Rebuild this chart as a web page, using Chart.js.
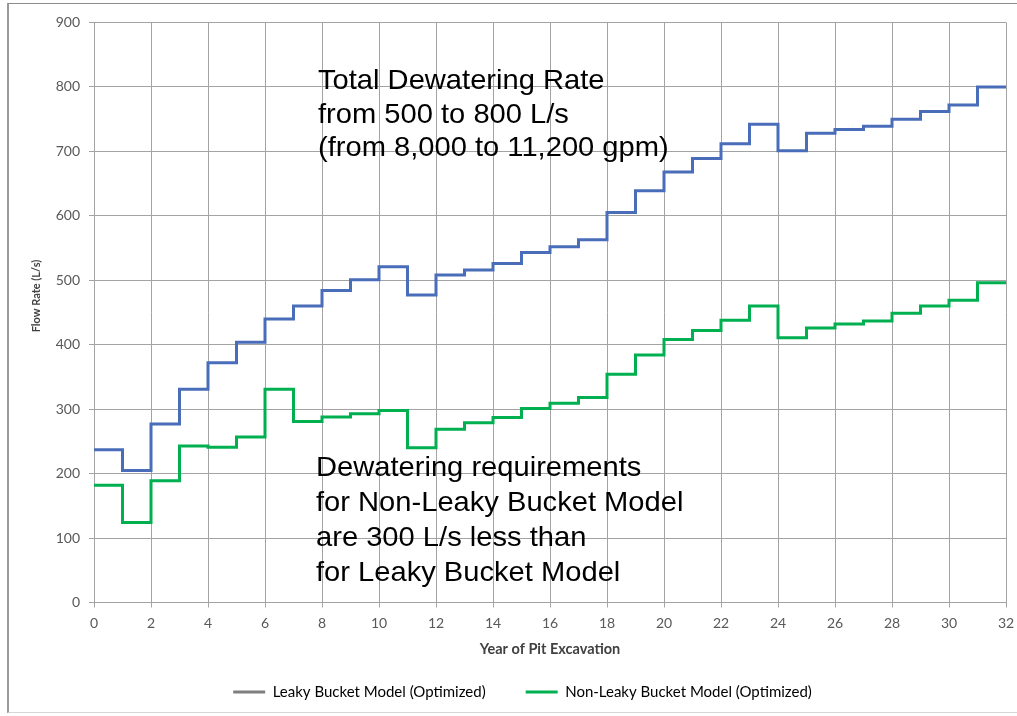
<!DOCTYPE html>
<html><head><meta charset="utf-8">
<script src="https://cdn.jsdelivr.net/npm/chart.js@4.4.0/dist/chart.umd.min.js"></script>
<style>
html,body{margin:0;padding:0;background:#fff;overflow:hidden}
#wrap{position:relative;width:1017px;height:716px;background:#fff}
#frame{position:absolute;left:7px;top:3px;width:1020px;height:708px;border-left:2px solid #9a9a9a;border-top:1px solid #8c8c8c;border-bottom:1px solid #d6d6d6;pointer-events:none}
canvas{position:absolute;left:0;top:0}
</style></head><body>
<div id="wrap"><canvas id="c" width="1017" height="716"></canvas><div id="frame"></div></div>
<script>
// Year of pit excavation (step boundaries)
const years = [0,1,2,3,4,5,6,7,8,9,10,11,12,13,14,15,16,17,18,19,20,21,22,23,24,25,26,27,28,29,30,31,32];
// Flow rate (L/s) for each year interval; last entry is the end of the final step
const leakyBucket = [237,205,277,331,372,404,440,460,484,501,521,477,508,516,526,543,552,563,605,639,668,689,712,742,701,728,734,739,750,762,772,800,800];
const nonLeakyBucket = [182,124,189,243,241,257,331,281,288,293,298,240,269,279,287,301,309,318,354,384,408,422,438,460,411,426,432,437,449,460,469,496,496];
const seriesNames = ['Leaky Bucket Model (Optimized)', 'Non-Leaky Bucket Model (Optimized)'];
const xTitle = 'Year of Pit Excavation';
const yTitle = 'Flow Rate (L/s)';
const noteTop = ['Total Dewatering Rate', 'from 500 to 800 L/s', '(from 8,000 to 11,200 gpm)'];
const noteBottom = ['Dewatering requirements', 'for Non-Leaky Bucket Model', 'are 300 L/s less than', 'for Leaky Bucket Model'];

const toPts = (vals) => years.map((x, i) => ({x: x, y: vals[i]}));

const LEG_FONT = 15, LEG_PAD = 40;

const notesPlugin = {
  id: 'notes',
  afterDraw(chart) {
    const ctx = chart.ctx;
    ctx.save();
    ctx.fillStyle = '#000';
    ctx.font = '28px "Liberation Sans", Arial, sans-serif';
    ctx.textBaseline = 'alphabetic';
    ctx.textAlign = 'left';
    const draw = (lines, x, y0, dy) => {
      lines.forEach((t, i) => {
        ctx.save();
        ctx.translate(x, y0 + i * dy);
        ctx.scale(1.04, 1);
        ctx.fillText(t, 0, 0);
        ctx.restore();
      });
    };
    draw(noteTop, 318, 89, 33.7);
    draw(noteBottom, 316, 476, 35);
    ctx.restore();
  }
};

const legendPlace = {
  id: 'legendPlace',
  afterLayout(chart) {
    const L = chart.legend;
    if (!L) return;
    L.left = 0; L.right = 1045;
    L.top = 692 - LEG_PAD - LEG_FONT / 2;
    L.bottom = 716;
    L.width = L.right - L.left;
    L.height = L.bottom - L.top;
  }
};

new Chart(document.getElementById('c'), {
  type: 'line',
  data: {
    datasets: [
      {label: seriesNames[0], data: toPts(leakyBucket), borderColor: '#4A6DBA', borderWidth: 3, pointRadius: 0, stepped: true, fill: false},
      {label: seriesNames[1], data: toPts(nonLeakyBucket), borderColor: '#00B050', borderWidth: 3, pointRadius: 0, stepped: true, fill: false}
    ]
  },
  options: {
    responsive: false,
    animation: false,
    devicePixelRatio: 1,
    layout: {padding: {left: 0, right: 11, top: 22.5, bottom: 18.3}},
    plugins: {
      tooltip: {enabled: false},
      legend: {
        position: 'bottom',
        maxHeight: 40,
        labels: {
          usePointStyle: true,
          pointStyleWidth: 32,
          padding: LEG_PAD,
          color: '#404040',
          font: {family: 'Lato', size: LEG_FONT},
          generateLabels() {
            return [
              {text: seriesNames[0], strokeStyle: '#7F7F7F', fillStyle: '#7F7F7F', lineWidth: 3, pointStyle: 'line', datasetIndex: 0, hidden: false},
              {text: seriesNames[1], strokeStyle: '#00B050', fillStyle: '#00B050', lineWidth: 3, pointStyle: 'line', datasetIndex: 1, hidden: false}
            ];
          }
        }
      }
    },
    scales: {
      x: {
        type: 'linear', min: 0, max: 32,
        ticks: {stepSize: 2, color: '#595959', font: {family: 'Lato', size: 14}, padding: 8, maxRotation: 0},
        grid: {color: '#a3a3a3', lineWidth: 1, tickLength: 5},
        border: {color: '#a3a3a3'},
        title: {display: true, text: xTitle, color: '#404040', font: {family: 'Lato', size: 14.5, weight: 'bold'}, padding: {top: 0, bottom: 0}},
        afterFit(s) { s.height = 55.2; s.paddingRight = 4; s.paddingLeft = 0; }
      },
      y: {
        min: 0, max: 900,
        ticks: {stepSize: 100, color: '#595959', font: {family: 'Lato', size: 14}, padding: 9},
        grid: {color: '#a3a3a3', lineWidth: 1, tickLength: 5},
        border: {color: '#a3a3a3'},
        title: {display: true, text: '\u2003\u2003\u2003\u2003' + yTitle, color: '#404040', font: {family: 'Lato', size: 11, weight: 'bold'}, padding: {top: 30, bottom: 0}},
        afterFit(s) { s.width = 94; }
      }
    }
  },
  plugins: [notesPlugin, legendPlace]
});
</script>
</body></html>
